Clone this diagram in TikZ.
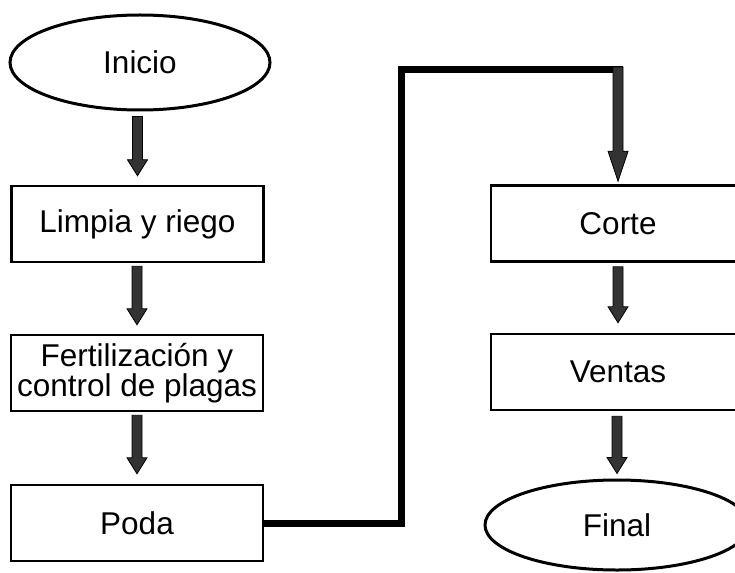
\documentclass[tikz,border=0pt]{standalone}
\usepackage{fontspec}
\setmainfont{Liberation Sans}
\usetikzlibrary{shapes.geometric,calc}
\definecolor{arrgray}{RGB}{51,51,51}
\tikzset{
  box/.style={draw=black, line width=2.5pt, minimum width=252pt, minimum height=76pt, inner sep=0pt, align=center, font=\fontsize{31.5}{27.5}\selectfont},
  ell/.style={ellipse, draw=black, line width=3pt, inner sep=0pt, font=\fontsize{31.5}{27.5}\selectfont},
  arrbody/.style={draw=black, line width=0.8pt, fill=arrgray, line join=miter},
  conn/.style={draw=black, line width=7pt, line join=miter, line cap=butt}
}
\newcommand\blockarr[3]{%
  \path let \p1=#1, \p2=#2 in [arrbody]
    (\x2-5pt,\y1) -- (\x2+5pt,\y1) -- (\x2+5pt,\y2+#3pt) -- (\x2+10pt,\y2+#3pt)
    -- (\x2,\y2) -- (\x2-10pt,\y2+#3pt) -- (\x2-5pt,\y2+#3pt) -- cycle;}
\begin{document}
\begin{tikzpicture}[x=1pt,y=-1pt]
\useasboundingbox (0,0) rectangle (735,572);
\clip (0,0) rectangle (735,572);
\fill[white] (0,0) rectangle (735,572);
\node[ell, minimum width=260pt, minimum height=95pt] (ini) at (140,62.5) {Inicio};
\node[box] (limp) at (137.5,224) {Limpia y riego};
\node[box] (fert) at (137,373) {Fertilización y\\control de plagas};
\node[box] (poda) at (137,523) {Poda};
\node[box, minimum width=254pt] (corte) at (618,223.5) {Corte};
\node[box, minimum width=254pt] (ventas) at (618,372) {Ventas};
\node[ell, minimum width=264pt, minimum height=90pt] (final) at (617,525) {Final};
\coordinate (cA) at (401,70);
\coordinate (cB) at (623,70);
\draw[conn] (poda.east) -| (cA) -- (cB);
\blockarr{($(ini.south)+(0,5)$)}{($(limp.north)+(0,-9)$)}{16}
\blockarr{($(limp.south)+(0,3)$)}{($(fert.north)+(0,-9)$)}{16}
\blockarr{($(fert.south)+(0,3)$)}{($(poda.north)+(0,-10)$)}{16}
\blockarr{($(cB)+(0,-3)$)}{($(corte.north)+(0,-3)$)}{30}
\blockarr{($(corte.south)+(0,4)$)}{($(ventas.north)+(0,-10)$)}{16}
\blockarr{($(ventas.south)+(0,5)$)}{($(final.north)+(0,-5)$)}{16}
\end{tikzpicture}
\end{document}
